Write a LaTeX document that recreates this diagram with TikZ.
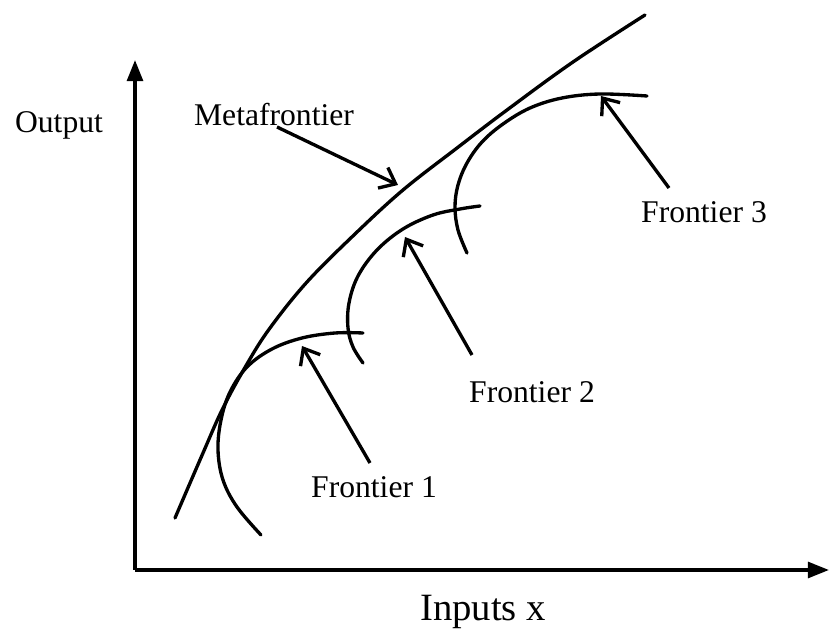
\documentclass[tikz,border=0pt]{standalone}
\usepackage{fontspec}
\setmainfont{Liberation Serif}
\usetikzlibrary{arrows.meta}
\begin{document}
\begin{tikzpicture}[x=0.02cm,y=-0.02cm,
  curve/.style={line width=1.9pt,line cap=round},
  axis/.style={line width=1.9pt,-{Triangle[length=12pt,width=9pt]}},
  pointer/.style={line width=1.9pt,-{Straight Barb[length=8pt,width=13pt,line width=1.9pt]}},
  lbl/.style={font=\fontsize{18}{20}\selectfont,inner sep=0pt}]
\useasboundingbox (0,0) rectangle (829,634);
% axes
\coordinate (O) at (135,570);
\coordinate (Ytop) at (135,60);
\coordinate (Xend) at (829,570);
\draw[axis] (O) -- (Ytop);
\draw[axis] (O) -- (Xend);
% labels
\node[lbl] (out) at (59,125) {Output};
\node[lbl,font=\fontsize{22}{24}\selectfont] (inp) at (483,612) {Inputs x};
\node[lbl] (meta) at (274,115) {Metafrontier};
\node[lbl] (f1) at (374,487) {Frontier 1};
\node[lbl] (f2) at (532,392) {Frontier 2};
\node[lbl] (f3) at (704,212) {Frontier 3};
% metafrontier
\draw[curve] plot[smooth,tension=0.6] coordinates {(175,518) (203,453) (223,408) (247,364) (270,328) (307,282) (355,234) (403,190) (457,148) (507,110) (573,62) (645,15)};
% frontier 1
\draw[curve] plot[smooth,tension=0.6] coordinates {(261,535) (237,507) (223,480) (218,450) (221,420) (230,392) (247,367) (272,349) (302,338) (335,333) (363,333)};
% frontier 2
\draw[curve] plot[smooth,tension=0.6] coordinates {(363,363) (353,347) (348,328) (349,303) (358,276) (377,250) (403,229) (433,215) (460,209) (480,206)};
% frontier 3
\draw[curve] plot[smooth,tension=0.6] coordinates {(467,253) (458,230) (455,207) (458,185) (467,163) (482,142) (503,124) (530,108) (562,98) (600,94) (647,96)};
% pointers
\coordinate (ma) at (277,127);
\coordinate (mt) at (398,185);
\coordinate (a1) at (370,463);
\coordinate (t1) at (302,346);
\coordinate (a2) at (472,355);
\coordinate (t2) at (405,237);
\coordinate (a3) at (669,188);
\coordinate (t3) at (601,96);
\draw[pointer] (ma) -- (mt);
\draw[pointer] (a1) -- (t1);
\draw[pointer] (a2) -- (t2);
\draw[pointer] (a3) -- (t3);
\end{tikzpicture}
\end{document}
